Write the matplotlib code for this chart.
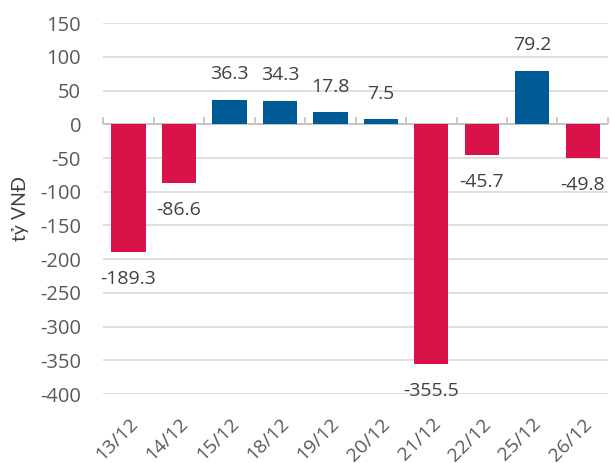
import matplotlib.pyplot as plt
import numpy as np

plt.rcParams['font.family'] = ['Open Sans', 'DejaVu Sans']
plt.rcParams['axes.unicode_minus'] = False

days = ['13/12', '14/12', '15/12', '18/12', '19/12', '20/12', '21/12', '22/12', '25/12', '26/12']
values = [-189.3, -86.6, 36.3, 34.3, 17.8, 7.5, -355.5, -45.7, 79.2, -49.8]
y_ticks = [150, 100, 50, 0, -50, -100, -150, -200, -250, -300, -350, -400]

RED = '#D9134A'
BLUE = '#005A96'

fig = plt.figure(figsize=(6.11, 4.63), dpi=100)
ax = fig.add_axes([0.169, 0.149, 0.826, 0.801])

x = np.arange(len(days))
colors = [BLUE if v >= 0 else RED for v in values]
ax.bar(x, values, width=0.68, color=colors, zorder=3)

# value labels outside bar ends
for xi, v in zip(x, values):
    off = 12 if v >= 0 else -13
    ax.annotate(f'{v:.1f}', (xi, v), xytext=(0, off), textcoords='offset points',
                ha='center', va='bottom' if v >= 0 else 'top',
                fontsize=14, color='#404040', zorder=4)

ax.set_xlim(-0.5, len(days) - 0.5)
ax.set_ylim(-400, 150)
ax.set_yticks(y_ticks)
ax.tick_params(axis='y', length=0, pad=16, labelsize=14.5, labelcolor='#595959')
ax.yaxis.grid(True, color='#D9D9D9', linewidth=1.2, zorder=0)

ax.set_xticks(x)
ax.set_xticklabels(days, rotation=45, ha='right', rotation_mode='anchor')
ax.tick_params(axis='x', length=0, pad=15, labelsize=14, labelcolor='#595959')

for s in ax.spines.values():
    s.set_visible(False)

# zero line with category boundary tick marks
ax.axhline(0, color='#BFBFBF', linewidth=1.2, zorder=2)
zero_pos = (0 - ax.get_ylim()[0]) / (ax.get_ylim()[1] - ax.get_ylim()[0])
sec = ax.secondary_xaxis(zero_pos)
sec.set_xticks(np.arange(-0.5, len(days), 1.0))
sec.set_xticklabels([])
sec.tick_params(axis='x', direction='out', length=5, width=1.2, color='#BFBFBF')
sec.spines['bottom'].set_visible(False)
sec.spines['top'].set_visible(False)

ax.set_ylabel('tỷ VNĐ', fontsize=14, color='#404040', labelpad=8,
              family=['Lato', 'DejaVu Sans'])

fig.savefig('out.png', dpi=100)
